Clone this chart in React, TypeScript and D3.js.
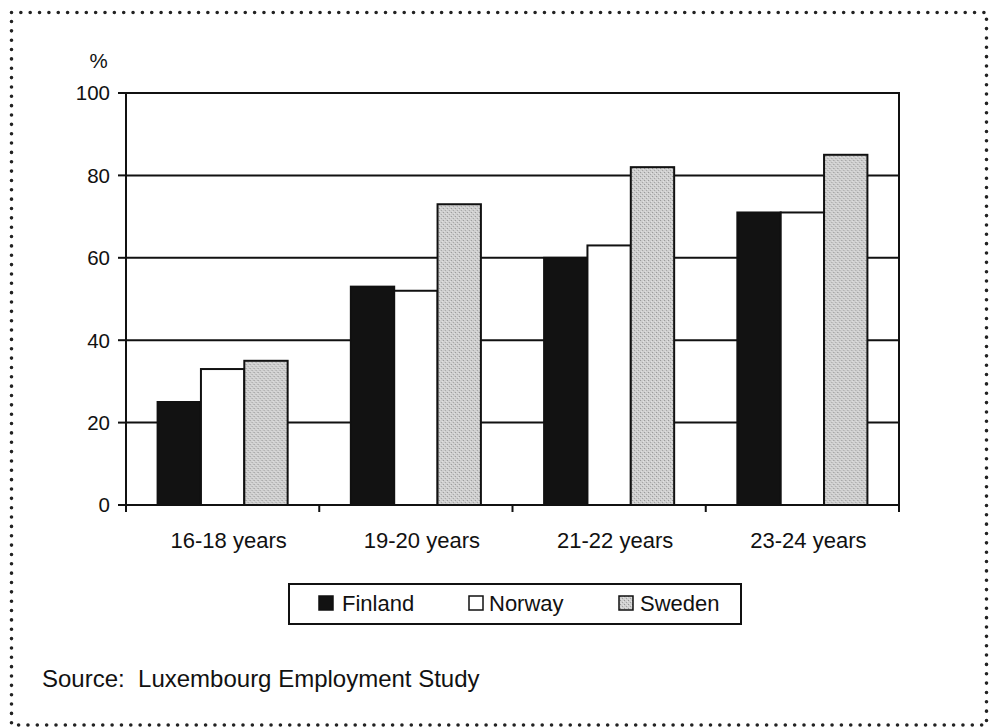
import React from "react";
import * as d3 from "d3";

// Share employed by age group (%)
const ageGroups = ["16-18 years", "19-20 years", "21-22 years", "23-24 years"];
const countries = ["Finland", "Norway", "Sweden"];
const finland = [25, 53, 60, 71];
const norway = [33, 52, 63, 71];
const sweden = [35, 73, 82, 85];
const yTicks = [0, 20, 40, 60, 80, 100];
const sourceNote = "Source:\u00a0 Luxembourg Employment Study";

const seriesValues = [finland, norway, sweden];
const fills = ["#121212", "#ffffff", "url(#stipple)"];

const W = 994;
const H = 728;
const plot = { left: 126, right: 899, top: 93, bottom: 505 };
const font = "Arial, 'Liberation Sans', Helvetica, sans-serif";

export default function App() {
  const x = d3
    .scaleBand<string>()
    .domain(ageGroups)
    .range([plot.left, plot.right])
    .paddingInner(0.327)
    .paddingOuter(0.1635);
  const xs = d3
    .scaleBand<string>()
    .domain(countries)
    .range([0, x.bandwidth()])
    .padding(0);
  const y = d3.scaleLinear().domain([0, 100]).range([plot.bottom, plot.top]);
  const step = x.step();
  const boundaries = d3.range(ageGroups.length + 1).map((i) => plot.left + i * step);

  const legendItems = [
    { label: countries[0], sx: 319, tx: 342 },
    { label: countries[1], sx: 469, tx: 489 },
    { label: countries[2], sx: 619, tx: 640 },
  ];

  return (
    <svg
      width={W}
      height={H}
      style={{ position: "absolute", left: 0, top: 0, background: "#fff" }}
      fontFamily={font}
    >
      <defs>
        <pattern id="stipple" width="4" height="4" patternUnits="userSpaceOnUse">
          <rect width="4" height="4" fill="#cfcfcf" />
          <rect x="0" y="0" width="1" height="1" fill="#949494" />
          <rect x="2" y="2" width="1" height="1" fill="#a2a2a2" />
          <rect x="3" y="1" width="1" height="1" fill="#e4e4e4" />
          <rect x="1" y="3" width="1" height="1" fill="#e0e0e0" />
        </pattern>
      </defs>

      {/* dotted frame */}
      <rect
        x={11.5}
        y={12.5}
        width={975}
        height={712.5}
        fill="none"
        stroke="#222"
        strokeWidth={3.6}
        strokeLinecap="round"
        strokeDasharray="0 9.35"
      />

      {/* gridlines */}
      {yTicks
        .filter((t) => t > 0)
        .map((t) => (
          <line
            key={t}
            x1={plot.left}
            x2={plot.right}
            y1={y(t)}
            y2={y(t)}
            stroke="#111"
            strokeWidth={2}
          />
        ))}
      {/* right border of plot area */}
      <line x1={plot.right} x2={plot.right} y1={plot.top - 1} y2={plot.bottom} stroke="#111" strokeWidth={2} />

      {/* bars */}
      {ageGroups.map((g, gi) => (
        <g key={g} transform={`translate(${x(g)},0)`}>
          {countries.map((c, ci) => {
            const v = seriesValues[ci][gi];
            return (
              <rect
                key={c}
                x={xs(c)}
                y={y(v)}
                width={xs.bandwidth()}
                height={y(0) - y(v)}
                fill={fills[ci]}
                stroke="#111"
                strokeWidth={2}
              />
            );
          })}
        </g>
      ))}

      {/* y axis */}
      <line x1={plot.left} x2={plot.left} y1={plot.top - 1} y2={plot.bottom + 7} stroke="#111" strokeWidth={2} />
      {yTicks.map((t) => (
        <g key={t}>
          <line x1={plot.left - 8} x2={plot.left} y1={y(t)} y2={y(t)} stroke="#111" strokeWidth={2} />
          <text
            x={110}
            y={y(t)}
            dy="0.36em"
            textAnchor="end"
            fontSize={20.5}
            fill="#111"
          >
            {t}
          </text>
        </g>
      ))}
      <text x={98.5} y={68} textAnchor="middle" fontSize={20.5} fill="#111">
        %
      </text>

      {/* x axis */}
      <line x1={plot.left} x2={plot.right} y1={plot.bottom} y2={plot.bottom} stroke="#111" strokeWidth={2} />
      {boundaries.map((bx, i) => (
        <line key={i} x1={bx} x2={bx} y1={plot.bottom} y2={plot.bottom + 7} stroke="#111" strokeWidth={2} />
      ))}
      {ageGroups.map((g) => (
        <text
          key={g}
          x={(x(g) as number) + x.bandwidth() / 2 + 6}
          y={548}
          textAnchor="middle"
          fontSize={22}
          fill="#111"
        >
          {g}
        </text>
      ))}

      {/* legend */}
      <rect x={289} y={584} width={452} height={40} fill="#fff" stroke="#111" strokeWidth={2} />
      {legendItems.map((it, i) => (
        <g key={it.label}>
          <rect
            x={it.sx}
            y={596}
            width={14}
            height={14}
            fill={fills[i]}
            stroke="#111"
            strokeWidth={1.5}
          />
          <text x={it.tx} y={611} fontSize={22} fill="#111">
            {it.label}
          </text>
        </g>
      ))}

      {/* source note */}
      <text x={42} y={687} fontSize={24} fill="#111">
        {sourceNote}
      </text>
    </svg>
  );
}
